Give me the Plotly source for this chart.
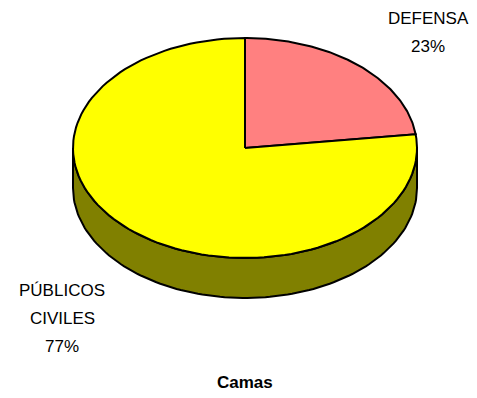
import numpy as np
import plotly.graph_objects as go

labels = ["DEFENSA", "PÚBLICOS CIVILES"]
label_lines = [["DEFENSA"], ["PÚBLICOS", "CIVILES"]]
values = [23, 77]
top_colors = ["#FF8080", "#FFFF00"]
side_colors = ["#804040", "#808000"]
title = "Camas"

W, H = 477, 398
# tilted pie geometry (pixels)
cx, cy, rx, ry, depth = 245, 148, 172, 110, 40


def ellipse_pts(a0, a1, dy=0.0, n=120):
    # angles in degrees, clockwise from 12 o'clock
    t = np.radians(np.linspace(a0, a1, n))
    return cx + rx * np.sin(t), cy - ry * np.cos(t) + dy


fig = go.Figure()

total = sum(values)
starts = np.cumsum([0] + values[:-1]) / total * 360
ends = np.cumsum(values) / total * 360

# side walls (front half only: 90..270 deg)
for s, e, sc in zip(starts, ends, side_colors):
    a0, a1 = max(s, 90), min(e, 270)
    if a1 <= a0:
        continue
    xt, yt = ellipse_pts(a0, a1)
    xb, yb = ellipse_pts(a1, a0, dy=depth)
    fig.add_trace(go.Scatter(
        x=np.r_[xt, xb, xt[:1]], y=np.r_[yt, yb, yt[:1]],
        mode="lines", fill="toself", fillcolor=sc,
        line=dict(color="black", width=2),
        hoverinfo="skip", showlegend=False,
    ))

# top face slices
for s, e, tc, name in zip(starts, ends, top_colors, labels):
    xs, ys = ellipse_pts(s, e)
    fig.add_trace(go.Scatter(
        x=np.r_[cx, xs, cx], y=np.r_[cy, ys, cy],
        mode="lines", fill="toself", fillcolor=tc,
        line=dict(color="black", width=2),
        name=name, hoverinfo="name", showlegend=False,
    ))

# labels outside the pie
label_pos = [(428, 18), (62, 290)]
line_gap = 28
font = dict(family="Liberation Sans, Arial, sans-serif", size=17, color="black")
for lines, v, (lx, ly) in zip(label_lines, values, label_pos):
    for i, txt in enumerate(lines + [f"{v / total * 100:.0f}%"]):
        fig.add_annotation(x=lx, y=ly + i * line_gap, text=txt, showarrow=False,
                           font=font, xanchor="center", yanchor="middle")

fig.add_annotation(x=cx, y=382, text=f"<b>{title}</b>", showarrow=False,
                   font=font, xanchor="center", yanchor="middle")

fig.update_layout(
    width=W, height=H, autosize=False,
    margin=dict(l=0, r=0, t=0, b=0),
    paper_bgcolor="white", plot_bgcolor="white",
    xaxis=dict(range=[0, W], visible=False, fixedrange=True),
    yaxis=dict(range=[H, 0], visible=False, fixedrange=True),
    showlegend=False,
)

fig.write_html("out.html", config={"displayModeBar": False},
               post_script="document.body.style.margin='0';")
